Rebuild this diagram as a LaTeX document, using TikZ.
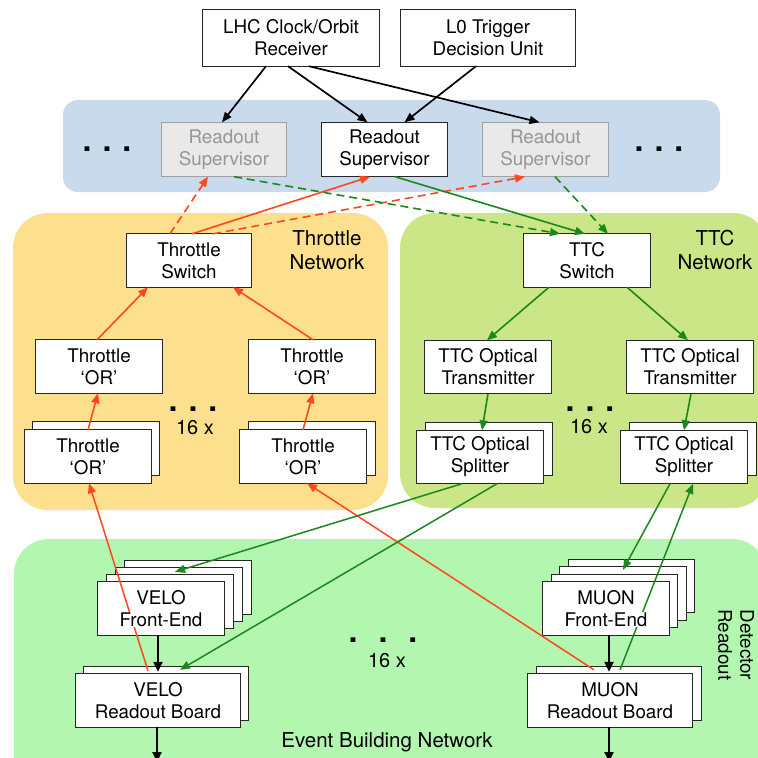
\documentclass[tikz,border=0pt]{standalone}
\usepackage{fontspec}
\setmainfont{TeX Gyre Heros}
\usetikzlibrary{arrows.meta}

\pgfdeclarelayer{regions}
\pgfdeclarelayer{frames}
\pgfdeclarelayer{wires}
\pgfsetlayers{regions,frames,wires,main}

\definecolor{bandblue}{RGB}{200,218,235}
\definecolor{thrzone}{RGB}{252,224,142}
\definecolor{ttczone}{RGB}{202,230,135}
\definecolor{detzone}{RGB}{178,246,175}
\definecolor{thrred}{RGB}{255,72,30}
\definecolor{ttcgreen}{RGB}{28,135,28}
\definecolor{idlefill}{RGB}{233,233,233}
\definecolor{idleline}{RGB}{160,160,160}
\definecolor{idletext}{RGB}{150,150,150}

\newcommand\boxfont{\fontsize{18.8}{22}\selectfont}
\newcommand\zonefont{\fontsize{20.5}{23.5}\selectfont}
\newcommand\wl[1]{{\setlength\fboxsep{0.4pt}\colorbox{white}{#1}}}

% outline of a single box, drawn under the wires
\newcommand\frameof[2][boxframe]{%
  \begin{pgfonlayer}{frames}
    \draw[#1] (#2.south west) rectangle (#2.north east);
  \end{pgfonlayer}}
% a stack of boxes: node, number of copies behind, x step, y step
\newcommand\stackof[4]{%
  \begin{pgfonlayer}{frames}
    \foreach \k in {#2,...,1}{
      \draw[boxframe] ([xshift=\k*#3pt,yshift=\k*#4pt]#1.south west)
        rectangle ([xshift=\k*#3pt,yshift=\k*#4pt]#1.north east);}
    \draw[boxframe] (#1.south west) rectangle (#1.north east);
  \end{pgfonlayer}}

\tikzset{
  cell/.style={minimum height=53pt, inner sep=0pt, align=center, font=\boxfont},
  boxframe/.style={draw=black!85, line width=1.1pt, fill=white},
  idleframe/.style={draw=idleline, line width=1.1pt, fill=idlefill},
  zonelabel/.style={align=center, font=\zonefont, inner sep=0pt},
  dotrow/.style={font=\fontsize{32}{32}\selectfont\bfseries, inner sep=0pt, anchor=base},
  count/.style={font=\fontsize{20}{20}\selectfont, inner sep=0pt, anchor=base},
  dashline/.style={dash pattern=on 8pt off 5pt},
  clk/.style={draw=black, line width=1.7pt, -{Triangle[length=10pt,width=8pt]}},
  data/.style={draw=black, line width=2.2pt, -{Triangle[length=10pt,width=9pt]}},
  thr/.style={draw=thrred, line width=1.6pt, -{Triangle[length=10pt,width=8pt]}},
  ttc/.style={draw=ttcgreen, line width=1.6pt, -{Triangle[length=10pt,width=8pt]}},
}

\begin{document}
\begin{tikzpicture}[x=1pt, y=-1pt]
\useasboundingbox (0,0) rectangle (758,758);

% coloured zones
\begin{pgfonlayer}{regions}
  \fill[bandblue, rounded corners=15pt] (63,100) rectangle (720,192);
  \fill[thrzone, rounded corners=35pt] (13,213) rectangle (388,510);
  \fill[ttczone, rounded corners=35pt] (400,213) rectangle (768,508);
  \fill[detzone, rounded corners=35pt] (14,539) rectangle (767,790);
\end{pgfonlayer}

% timing sources
\node[cell, minimum width=176pt, minimum height=56pt] (lhc) at (291,38) {LHC Clock/Orbit\\Receiver};
\node[cell, minimum width=174pt, minimum height=56pt] (l0) at (488,38) {L0 Trigger\\Decision Unit};
\frameof{lhc}
\frameof{l0}

% readout supervisors
\node[cell, minimum width=124pt, minimum height=54pt, text=idletext] (rsL) at (224,149.5) {Readout\\Supervisor};
\node[cell, minimum width=125pt, minimum height=54pt] (rsC) at (384.5,149.5) {Readout\\Supervisor};
\node[cell, minimum width=125pt, minimum height=54pt, text=idletext] (rsR) at (545.5,149.5) {Readout\\Supervisor};
\frameof[idleframe]{rsL}
\frameof{rsC}
\frameof[idleframe]{rsR}
\node[dotrow] (dotsL) at (107,151) {.\hskip11pt.\hskip11pt.};
\node[dotrow] (dotsR) at (659,151) {.\hskip11pt.\hskip11pt.};

% throttle network
\node[cell, minimum width=124pt] (tsw) at (189,260.5) {Throttle\\Switch};
\node[cell, minimum width=126pt] (torTL) at (99,366.5) {Throttle\\‘OR’};
\node[cell, minimum width=126pt] (torTR) at (312,366.5) {Throttle\\‘OR’};
\node[cell, minimum width=126pt] (torBL) at (88,456.5) {Throttle\\‘OR’};
\node[cell, minimum width=126pt] (torBR) at (303,456.5) {Throttle\\‘OR’};
\frameof{tsw}
\frameof{torTL}
\frameof{torTR}
\stackof{torBL}{1}{8}{8}
\stackof{torBR}{1}{9}{8}
\node[zonelabel] (thrname) at (327,250) {Throttle\\Network};
\node[dotrow] (thrdots) at (193,411) {.\hskip11pt.\hskip11pt.};
\node[count] (thrcount) at (195,434) {16 x};

% TTC network
\node[cell, minimum width=126pt] (ttcsw) at (587,260.5) {TTC\\Switch};
\node[cell, minimum width=126pt] (otL) at (488,367) {TTC Optical\\Transmitter};
\node[cell, minimum width=126pt] (otR) at (690,367) {TTC Optical\\Transmitter};
\node[cell, minimum width=126pt] (spL) at (480,457) {TTC Optical\\Splitter};
\node[cell, minimum width=126pt] (spR) at (684,457) {TTC Optical\\Splitter};
\frameof{ttcsw}
\frameof{otL}
\frameof{otR}
\stackof{spL}{1}{9}{8}
\stackof{spR}{1}{9}{8}
\node[zonelabel] (ttcname) at (715,250) {TTC\\Network};
\node[dotrow] (ttcdots) at (590,411) {.\hskip11pt.\hskip11pt.};
\node[count] (ttccount) at (589,433) {16 x};

% detector readout
\node[cell, minimum width=126pt] (veloFE) at (161,608.5) {\wl{VELO}\\\wl{Front-End}};
\node[cell, minimum width=164pt] (veloRB) at (158,700.5) {VELO\\Readout Board};
\node[cell, minimum width=126pt] (muonFE) at (606,608.5) {\wl{MUON}\\\wl{Front-End}};
\node[cell, minimum width=164pt] (muonRB) at (610,700.5) {MUON\\Readout Board};
\stackof{veloFE}{3}{9}{7}
\stackof{veloRB}{1}{8}{7}
\stackof{muonFE}{3}{8.5}{7.5}
\stackof{muonRB}{1}{9}{7}
\node[dotrow] (detdots) at (383,642) {.\hskip21pt.\hskip21pt.};
\node[count] (detcount) at (387,667) {16 x};
\node[zonelabel, anchor=base] (ebn) at (387,747) {Event Building Network};
\node[align=center, font=\boxfont, inner sep=0pt, rotate=-90] (detname) at (736,645) {Detector\\Readout};
\coordinate (veloOut) at (157,762);
\coordinate (muonOut) at (609,762);

\begin{pgfonlayer}{wires}
  % clock and trigger decisions to the supervisors
  \draw[clk] ([xshift=-25pt]lhc.south) -- ([xshift=-2pt]rsL.north);
  \draw[clk] ([xshift=-3pt]lhc.south) -- ([xshift=-17pt]rsC.north);
  \draw[clk] ([xshift=18pt]lhc.south) -- ([xshift=-6pt]rsR.north);
  \draw[clk] ([xshift=-12pt]l0.south) -- ([xshift=20pt]rsC.north);

  % throttle switch back to the supervisors
  \draw[thr, dashline] ([xshift=-19pt]tsw.north) -- ([xshift=-16pt]rsL.south);
  \draw[thr] ([xshift=3pt]tsw.north) -- ([xshift=-14.5pt]rsC.south);
  \draw[thr, dashline] ([xshift=24pt]tsw.north) -- ([xshift=-20.5pt]rsR.south);

  % supervisors to the TTC switch
  \draw[ttc, dashline] ([xshift=10pt]rsL.south) -- ([xshift=-27pt]ttcsw.north);
  \draw[ttc] ([xshift=10.5pt]rsC.south) -- ([xshift=-2pt]ttcsw.north);
  \draw[ttc, dashline] ([xshift=9.5pt]rsR.south) -- ([xshift=21pt]ttcsw.north);

  % throttle tree
  \draw[thr] ([xshift=-2pt]torTL.north) -- ([xshift=-41pt]tsw.south);
  \draw[thr] ([xshift=1pt]torTR.north) -- ([xshift=44pt]tsw.south);
  \draw[thr] (torBL.north) -- ([xshift=-1pt]torTL.south);
  \draw[thr] (torBR.north) -- ([xshift=1pt]torTR.south);

  % TTC tree
  \draw[ttc] ([xshift=-38pt]ttcsw.south) -- ([xshift=-1pt]otL.north);
  \draw[ttc] ([xshift=40pt]ttcsw.south) -- ([xshift=-2pt]otR.north);
  \draw[ttc] (otL.south) -- ([xshift=2pt]spL.north);
  \draw[ttc] ([xshift=1pt]otR.south) -- (spR.north);

  % readout boards report throttle
  \draw[thr, line width=1.5pt] ([xshift=-10pt,yshift=3pt]veloRB.north) -- ([xshift=1pt]torBL.south);
  \draw[thr, line width=1.5pt] ([xshift=-16pt,yshift=4pt]muonRB.north) -- ([xshift=4pt]torBR.south);

  % splitters feed front-ends and readout boards
  \draw[ttc, line width=1.5pt] ([xshift=-18pt]spL.south) -- ([xshift=14pt,yshift=10pt]veloFE.north);
  \draw[ttc, line width=1.5pt] ([xshift=17pt]spL.south) -- ([xshift=22pt,yshift=4pt]veloRB.north);
  \draw[ttc, line width=1.5pt] ([xshift=-14pt]spR.south) -- ([xshift=17pt,yshift=12pt]muonFE.north);
  \draw[ttc, line width=1.5pt] ([xshift=10pt,yshift=4pt]muonRB.north) -- ([xshift=9pt]spR.south);

  % data path
  \draw[data] ([xshift=-3pt]veloFE.south) -- ([yshift=2pt]veloRB.north);
  \draw[data] ([xshift=-1pt]veloRB.south) -- (veloOut);
  \draw[data] ([xshift=3pt]muonFE.south) -- ([xshift=-1pt,yshift=2pt]muonRB.north);
  \draw[data] ([xshift=-1pt]muonRB.south) -- (muonOut);
\end{pgfonlayer}
\end{tikzpicture}
\end{document}
